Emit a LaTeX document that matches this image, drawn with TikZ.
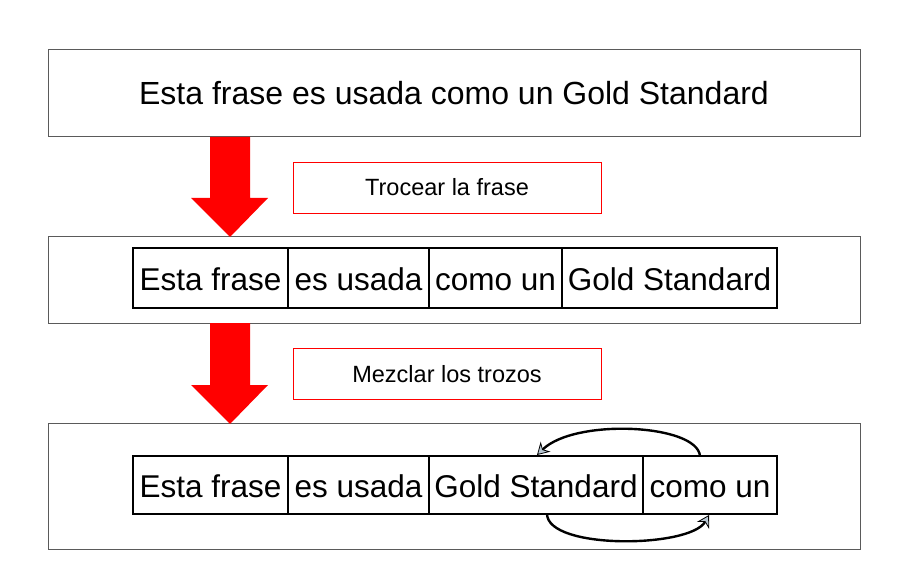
\documentclass[tikz,border=0pt]{standalone}
\usepackage{fontspec}
\setmainfont{Liberation Sans}
\usetikzlibrary{calc, arrows.meta}
\definecolor{framegray}{RGB}{90, 90, 90}
\definecolor{giro}{RGB}{185, 200, 212}

\begin{document}
\begin{tikzpicture}[x=1pt, y=-1pt,
  marco/.style={draw=framegray, line width=1pt, minimum width=812pt},
  trozo/.style={draw=black, line width=1.4pt, inner sep=0pt, outer sep=0pt, anchor=west,
    text height=24pt, text depth=0pt, font=\fontsize{31.5}{31.5}\selectfont},
  paso/.style={draw=red, line width=0.8pt, minimum width=308pt,
    minimum height=51pt, font=\fontsize{23.5}{23.5}\selectfont},
  vuelta/.style={line width=2.4pt, -{Stealth[length=12pt, width=14pt, fill=giro, line width=0.8pt]}}]
  \useasboundingbox (0, 0) rectangle (910, 588);

  % the three stages
  \node[marco, minimum height=87pt, font=\fontsize{32}{32}\selectfont] (marco1) at (454, 93.5)
    {Esta frase es usada como un Gold Standard};
  \node[marco, minimum height=87pt] (marco2) at (454, 280) {};
  \node[marco, minimum height=126pt] (marco3) at (454, 486) {};

  % red arrows between the stages
  \foreach \a/\b in {137/198, 323/385} {
    \fill[red] (210, \a) -- (250, \a) -- (250, \b) -- (268, \b)
      -- (230, \b + 39) -- (191, \b) -- (210, \b) -- cycle;
  }
  \node[paso] (paso1) at (447, 187.5) {Trocear la frase};
  \node[paso] (paso2) at (447, 374) {Mezclar los trozos};

  % pieces, in order
  \node[trozo, minimum width=155pt, minimum height=60pt] (a1) at (133, 278) {Esta frase};
  \node[trozo, minimum width=141pt, minimum height=60pt] (a2) at (a1.east) {es usada};
  \node[trozo, minimum width=133pt, minimum height=60pt] (a3) at (a2.east) {como un};
  \node[trozo, minimum width=215pt, minimum height=60pt] (a4) at (a3.east) {Gold Standard};

  % pieces, mixed
  \node[trozo, minimum width=155pt, minimum height=58pt] (b1) at (133, 485) {Esta frase};
  \node[trozo, minimum width=141pt, minimum height=58pt] (b2) at (b1.east) {es usada};
  \node[trozo, minimum width=214pt, minimum height=58pt] (b3) at (b2.east) {Gold Standard};
  \node[trozo, minimum width=134pt, minimum height=58pt] (b4) at (b3.east) {como un};

  % swap
  \draw[vuelta] ($(b4.north west) + (57, 0)$) .. controls (697, 424) and (575, 418)
    .. ($(b3.north west) + (108, -1)$);
  \draw[vuelta] ($(b3.south west) + (118, 0)$) .. controls (548, 550) and (690, 548)
    .. ($(b4.south west) + (66, 1)$);
\end{tikzpicture}
\end{document}
